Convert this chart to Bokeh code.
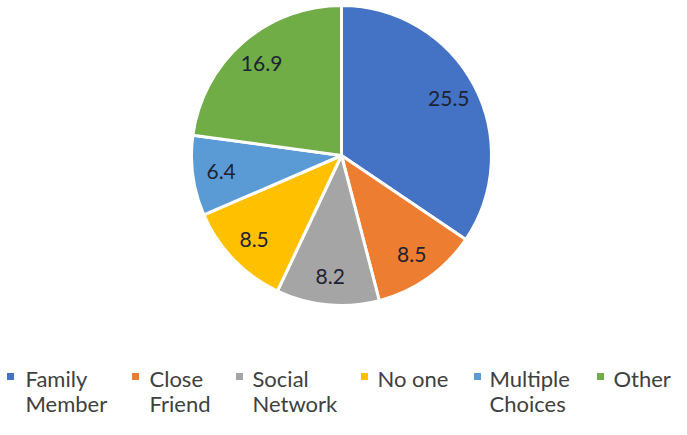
import math
from bokeh.plotting import figure
from bokeh.models import Range1d, ColumnDataSource
from bokeh.core.properties import value
from bokeh.embed import file_html
from bokeh.resources import INLINE

# ---- data ----
categories = ["Family\nMember", "Close\nFriend", "Social\nNetwork", "No one", "Multiple\nChoices", "Other"]
values = [25.5, 8.5, 8.2, 8.5, 6.4, 16.9]
colors = ["#4472C4", "#ED7D31", "#A5A5A5", "#FFC000", "#5B9BD5", "#70AD47"]

# ---- layout (data units == pixels) ----
W, H = 671, 419
cx, cy, R = 341, H - 155, 150        # pie centre / radius (px)
label_r = 0.81 * R
legend_sq_x = [10, 135, 239, 364, 477, 600]
legend_tx_x = [25, 149, 252, 377, 489, 613]
legend_l1_y = H - 378
legend_l2_y = H - 403
legend_sq_y = legend_l1_y + 2
FONT = "Lato"
TXT = "#1e2235"

p = figure(width=W, height=H, output_backend="svg", toolbar_location=None,
           x_range=Range1d(0, W), y_range=Range1d(0, H), min_border=0)
p.axis.visible = False
p.grid.visible = False
p.outline_line_color = None
p.background_fill_color = "white"
p.border_fill_color = "white"

total = sum(values)
starts, ends, mids = [], [], []
acc = 0.0
for v in values:
    a0 = math.pi / 2 - acc / total * 2 * math.pi
    acc += v
    a1 = math.pi / 2 - acc / total * 2 * math.pi
    starts.append(a0)
    ends.append(a1)
    mids.append((a0 + a1) / 2)

src = ColumnDataSource(dict(start=starts, end=ends, color=colors,
                            x=[cx] * len(values), y=[cy] * len(values)))
p.wedge(x="x", y="y", radius=R, radius_units="screen", start_angle="start",
        end_angle="end", direction="clock", fill_color="color",
        line_color="white", line_width=3, source=src)

lab = ColumnDataSource(dict(
    x=[cx + label_r * math.cos(m) for m in mids],
    y=[cy + label_r * math.sin(m) for m in mids],
    t=[f"{v:.1f}" for v in values]))
p.text(x="x", y="y", text="t", source=lab, text_align="center",
       text_baseline="middle", text_font=value(FONT), text_font_size="21px",
       text_color=TXT)

# legend
line1 = [c.split("\n")[0] for c in categories]
line2 = [c.split("\n")[1] if "\n" in c else "" for c in categories]
p.scatter(x=legend_sq_x, y=[legend_sq_y] * len(categories), marker="square",
          size=7, fill_color=colors, line_color=None)
p.text(x=legend_tx_x, y=[legend_l1_y] * len(categories), text=line1,
       text_align="left", text_baseline="middle", text_font=value(FONT),
       text_font_size="22px", text_color="#404040")
p.text(x=legend_tx_x, y=[legend_l2_y] * len(categories), text=line2,
       text_align="left", text_baseline="middle", text_font=value(FONT),
       text_font_size="22px", text_color="#404040")

open("out.html", "w").write(file_html(p, INLINE))
